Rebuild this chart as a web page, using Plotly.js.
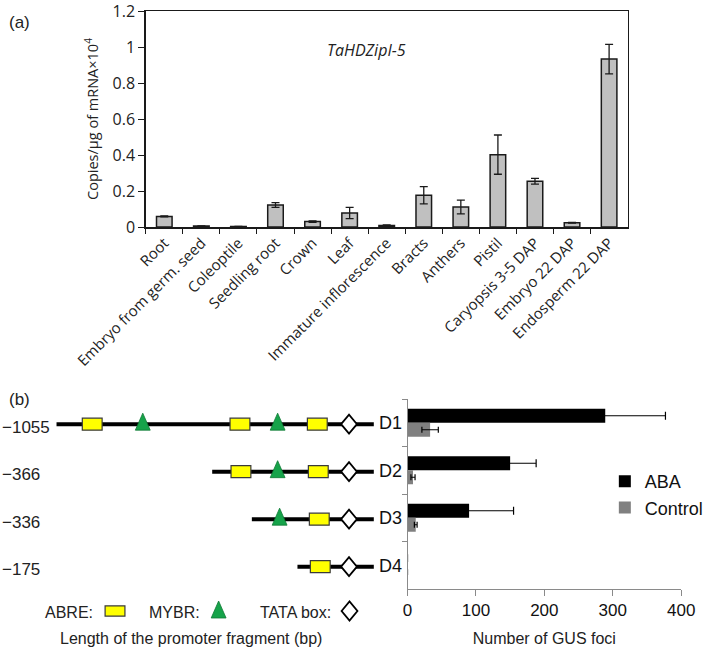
<!DOCTYPE html>
<html>
<head>
<meta charset="utf-8">
<script src="https://cdn.plot.ly/plotly-3.0.1.min.js"></script>
<style>html,body{margin:0;padding:0;background:#fff;}#chart{width:709px;height:651px;}</style>
</head>
<body>
<div id="chart"></div>
<script>
// ---------- (a) expression data ----------
const tissues = ["Root","Embryo from germ. seed","Coleoptile","Seedling root","Crown","Leaf","Immature inflorescence","Bracts","Anthers","Pistil","Caryopsis 3-5 DAP","Embryo 22 DAP","Endosperm 22 DAP"];
const copies = [0.059, 0.005, 0.003, 0.122, 0.030, 0.078, 0.009, 0.176, 0.111, 0.402, 0.254, 0.024, 0.933];
const copiesErr = [0.003, 0.001, 0.001, 0.013, 0.004, 0.031, 0.002, 0.048, 0.038, 0.109, 0.016, 0.002, 0.082];
const yTicks = [0, 0.2, 0.4, 0.6, 0.8, 1, 1.2];

// ---------- (b) GUS foci data ----------
const constructs = ["D1","D2","D3","D4"];
const abaFoci = [289, 150, 90, 0];
const abaErr = [88, 38, 65, null];
const controlFoci = [33, 8, 12, 0];
const controlErr = [12, 3, 2, null];

// ---------- (b) promoter schematic (schematic units) ----------
const fragLabels = ["\u22121055","\u2212366","\u2212336","\u2212175"];
const fragRow = [1, 2, 3, 4];
const fragStart = [57, 214, 254, 300];
const fragEnd = [377, 377, 377, 377];
const abrePos = [[93, 242, 320], [243, 321], [322], [323]];
const mybrPos = [[144, 280], [280], [282], []];
const tataPos = [352, 352, 352, 352];

const W = 709, H = 651;
const px = x => x / W;
const py = y => 1 - y / H;
const u = 4 / 190; // y3 units per pixel

const FONT_A = "Open Sans";
const FONT_B = "Liberation Sans, Arial, sans-serif";

const traces = [];

// (a) bars
traces.push({
  type: "bar", x: tissues, y: copies, xaxis: "x", yaxis: "y",
  width: 0.42, showlegend: false,
  marker: {color: "#c0c0c0", line: {color: "#1a1a1a", width: 1.5}},
  error_y: {type: "data", array: copiesErr, visible: true, color: "#1a1a1a", thickness: 1.3, width: 4}
});

// (b) GUS bars
traces.push({
  type: "bar", orientation: "h", name: "ABA", y: constructs, x: abaFoci,
  xaxis: "x2", yaxis: "y2", width: 0.295, offset: -0.295,
  marker: {color: "#000000", line: {width: 0}},
  error_x: {type: "data", array: abaErr, visible: true, color: "#000", thickness: 1.2, width: 4}
});
traces.push({
  type: "bar", orientation: "h", name: "Control", y: constructs, x: controlFoci,
  xaxis: "x2", yaxis: "y2", width: 0.295, offset: 0,
  marker: {color: "#808080", line: {width: 0}},
  error_x: {type: "data", array: controlErr, visible: true, color: "#000", thickness: 1.2, width: 3}
});

// promoter lines
for (let i = 0; i < fragRow.length; i++) {
  traces.push({
    type: "scatter", mode: "lines", x: [fragStart[i], fragEnd[i]], y: [fragRow[i], fragRow[i]],
    xaxis: "x3", yaxis: "y3", showlegend: false, hoverinfo: "skip", cliponaxis: false,
    line: {color: "#000", width: 4}
  });
}

// element shapes
const shapes = [];
function rectShape(xref, yref, x, y, sx, sy) {
  return {type: "rect", xref: xref, yref: yref, layer: "above",
    x0: x - 10 * sx, x1: x + 10 * sx, y0: y - 6 * sy, y1: y + 6 * sy,
    fillcolor: "#ffff00", line: {color: "#3a3a3a", width: 1.2}};
}
function triShape(xref, yref, x, y, sx, sy) {
  return {type: "path", xref: xref, yref: yref, layer: "above",
    path: `M ${x - 7.5 * sx},${y + 6 * sy} L ${x + 7.5 * sx},${y + 6 * sy} L ${x},${y - 11 * sy} Z`,
    fillcolor: "#16a34a", line: {color: "#0f7a35", width: 0.8}};
}
function diaShape(xref, yref, x, y, sx, sy) {
  return {type: "path", xref: xref, yref: yref, layer: "above",
    path: `M ${x - 8 * sx},${y} L ${x},${y - 9.5 * sy} L ${x + 8 * sx},${y} L ${x},${y + 9.5 * sy} Z`,
    fillcolor: "#ffffff", line: {color: "#000", width: 1.8}};
}
for (let i = 0; i < fragRow.length; i++) {
  abrePos[i].forEach(x => shapes.push(rectShape("x3", "y3", x, fragRow[i], 1, u)));
  mybrPos[i].forEach(x => shapes.push(triShape("x3", "y3", x, fragRow[i], 1, u)));
  shapes.push(diaShape("x3", "y3", tataPos[i], fragRow[i], 1, u));
}
// key icons below schematic (paper coords)
const sxP = 1 / W, syP = -1 / H;
shapes.push(rectShape("paper", "paper", px(116), py(611), sxP, syP * 0.85));
shapes.push(triShape("paper", "paper", px(220.5), py(612), sxP, syP));
shapes.push(diaShape("paper", "paper", px(352.5), py(611), sxP, syP));

const annotations = [
  {text: "(a)", x: px(7), y: py(22), xref: "paper", yref: "paper", xanchor: "left", yanchor: "middle", showarrow: false, font: {family: FONT_B, size: 17, color: "#222"}},
  {text: "(b)", x: px(7), y: py(399), xref: "paper", yref: "paper", xanchor: "left", yanchor: "middle", showarrow: false, font: {family: FONT_B, size: 17, color: "#222"}},
  {text: "<i>TaHDZipI-5</i>", x: px(370), y: py(50), xref: "paper", yref: "paper", xanchor: "center", yanchor: "middle", showarrow: false, font: {family: FONT_A, size: 16, color: "#222"}},
  {text: "ABRE:", x: px(43), y: py(612), xref: "paper", yref: "paper", xanchor: "left", yanchor: "middle", showarrow: false, font: {family: FONT_B, size: 16, color: "#222"}},
  {text: "MYBR:", x: px(148), y: py(612), xref: "paper", yref: "paper", xanchor: "left", yanchor: "middle", showarrow: false, font: {family: FONT_B, size: 16, color: "#222"}},
  {text: "TATA box:", x: px(260), y: py(612), xref: "paper", yref: "paper", xanchor: "left", yanchor: "middle", showarrow: false, font: {family: FONT_B, size: 16, color: "#222"}},
  {text: "Length of the promoter fragment (bp)", x: px(193), y: py(638), xref: "paper", yref: "paper", xanchor: "center", yanchor: "middle", showarrow: false, font: {family: FONT_B, size: 16, color: "#222"}}
];
for (let i = 0; i < fragRow.length; i++) {
  annotations.push({text: fragLabels[i], x: px(0), y: fragRow[i], xref: "paper", yref: "y3", yshift: -3,
    xanchor: "left", yanchor: "middle", showarrow: false, font: {family: FONT_B, size: 17, color: "#222"}});
}

const layout = {
  width: W, height: H,
  margin: {l: 0, r: 0, t: 0, b: 0},
  paper_bgcolor: "#fff", plot_bgcolor: "rgba(0,0,0,0)",
  barmode: "overlay",
  showlegend: true,
  legend: {x: px(610), y: py(463), xanchor: "left", yanchor: "top", bgcolor: "rgba(0,0,0,0)",
    font: {family: FONT_B, size: 18, color: "#111"}, tracegroupgap: 6, traceorder: "normal"},
  xaxis: {domain: [px(147), px(633)], anchor: "y", type: "category", tickson: "boundaries",
    ticks: "outside", ticklen: 5, tickcolor: "#1a1a1a", tickwidth: 1,
    showline: true, linecolor: "#1a1a1a", linewidth: 1.5, mirror: true, showgrid: false,
    tickangle: -45, tickfont: {family: FONT_A, size: 15, color: "#222"}, automargin: false},
  yaxis: {domain: [py(227), py(11)], anchor: "x", range: [0, 1.2], tickmode: "array",
    tickvals: yTicks, ticktext: yTicks.map(String), ticklabeloverflow: "allow",
    ticks: "outside", ticklen: 6, tickcolor: "#1a1a1a", showline: true, linecolor: "#1a1a1a", linewidth: 1.5,
    mirror: true, showgrid: false, zeroline: false, tickfont: {family: FONT_A, size: 16, color: "#222"},
    title: {text: "Copies/\u00b5g of mRNA\u00d710<sup>4</sup>", font: {family: FONT_A, size: 14.5, color: "#222"}, standoff: 10},
    automargin: false},
  xaxis2: {domain: [px(411), px(687)], anchor: "y2", range: [0, 400], dtick: 100,
    ticks: "outside", ticklen: 6, tickcolor: "#8a8a8a", showline: true, linecolor: "#8a8a8a", linewidth: 1,
    showgrid: false, zeroline: false, tickfont: {family: FONT_B, size: 17, color: "#111"}, ticklabeloverflow: "allow",
    title: {text: "Number of GUS foci", font: {family: FONT_B, size: 16, color: "#222"}, standoff: 13},
    automargin: false},
  yaxis2: {domain: [py(589), py(399)], anchor: "x2", type: "category", categoryorder: "array",
    categoryarray: constructs, autorange: "reversed", tickson: "boundaries",
    ticks: "outside", ticklen: 5, tickcolor: "#8a8a8a", showline: true, linecolor: "#8a8a8a", linewidth: 1,
    showgrid: false, zeroline: false, tickfont: {family: FONT_B, size: 18, color: "#111"}, ticklabelstandoff: 1,
    automargin: false},
  xaxis3: {domain: [0, px(380)], anchor: "y3", range: [0, 380], visible: false, fixedrange: true},
  yaxis3: {domain: [py(589), py(399)], anchor: "x3", range: [4.47, 0.47], visible: false, fixedrange: true},
  shapes: shapes,
  annotations: annotations
};

Plotly.newPlot("chart", traces, layout, {staticPlot: true, displayModeBar: false});
</script>
</body>
</html>
